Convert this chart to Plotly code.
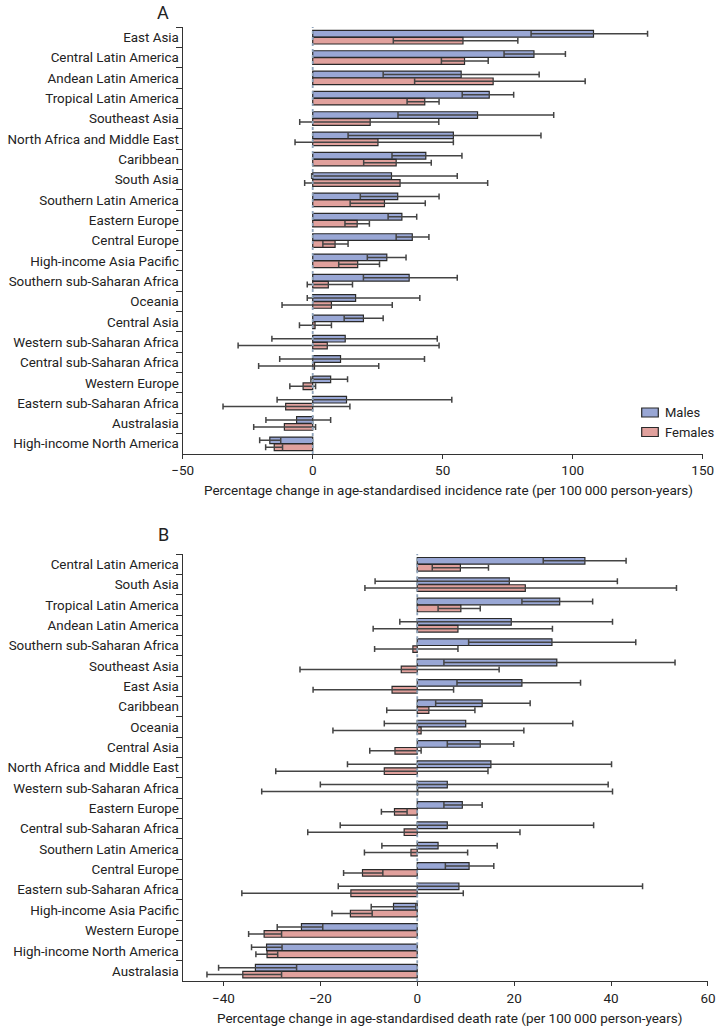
import plotly.graph_objects as go

# Panel A - incidence
regions_a = ["East Asia", "Central Latin America", "Andean Latin America", "Tropical Latin America",
             "Southeast Asia", "North Africa and Middle East", "Caribbean", "South Asia",
             "Southern Latin America", "Eastern Europe", "Central Europe", "High-income Asia Pacific",
             "Southern sub-Saharan Africa", "Oceania", "Central Asia", "Western sub-Saharan Africa",
             "Central sub-Saharan Africa", "Western Europe", "Eastern sub-Saharan Africa",
             "Australasia", "High-income North America"]
males_a = [108.0, 85.1, 57.1, 67.9, 63.4, 54.1, 43.5, 30.3, 32.7, 34.3, 38.3, 28.5, 37.1, 16.5,
           19.5, 12.5, 10.7, 6.9, 13.0, -6.2, -16.5]
males_a_lo = [84.0, 73.6, 27.1, 57.5, 32.8, 13.6, 30.5, -0.4, 18.3, 29.0, 32.1, 21.0, 19.5, -2.1,
              12.1, -15.7, -12.7, -0.7, -13.7, -18.0, -20.4]
males_a_hi = [128.8, 97.2, 87.1, 77.3, 92.7, 87.8, 57.4, 55.6, 48.6, 40.0, 44.7, 35.9, 55.6, 41.2,
              27.1, 47.9, 43.0, 13.4, 53.5, 6.9, -12.3]
females_a = [57.8, 58.4, 69.4, 43.1, 22.1, 25.1, 32.1, 33.6, 27.6, 17.1, 8.6, 17.3, 6.0, 7.2,
             0.9, 5.6, 0.7, -3.7, -10.4, -10.9, -14.8]
females_a_lo = [31.0, 49.5, 39.2, 36.3, -5.0, -6.8, 19.6, -3.1, 14.4, 12.4, 3.9, 10.0, -2.1, -11.8,
                -5.1, -28.7, -20.8, -8.8, -34.5, -22.7, -18.1]
females_a_hi = [78.9, 67.5, 104.8, 48.6, 48.5, 54.1, 45.6, 67.3, 43.3, 21.8, 13.6, 25.7, 15.3, 30.6,
                7.2, 48.6, 25.4, 1.1, 14.3, 1.1, -11.6]

# Panel B - mortality
regions_b = ["Central Latin America", "South Asia", "Tropical Latin America", "Andean Latin America",
             "Southern sub-Saharan Africa", "Southeast Asia", "East Asia", "Caribbean", "Oceania",
             "Central Asia", "North Africa and Middle East", "Western sub-Saharan Africa",
             "Eastern Europe", "Central sub-Saharan Africa", "Southern Latin America",
             "Central Europe", "Eastern sub-Saharan Africa", "High-income Asia Pacific",
             "Western Europe", "High-income North America", "Australasia"]
males_b = [34.6, 19.0, 29.4, 19.4, 27.8, 28.8, 21.6, 13.4, 10.0, 13.0, 15.2, 6.2, 9.3, 6.2, 4.3,
           10.7, 8.6, -4.9, -23.9, -31.1, -33.4]
males_b_lo = [26.0, -8.7, 21.6, -3.6, 10.6, 5.5, 8.2, 3.8, -6.8, 6.2, -14.4, -20.0, 5.5, -15.9,
              -7.3, 5.8, -16.3, -9.5, -28.9, -34.2, -41.0]
males_b_hi = [43.1, 41.3, 36.2, 40.3, 45.1, 53.2, 33.7, 23.3, 32.1, 19.9, 40.1, 39.4, 13.4, 36.4,
              16.5, 15.8, 46.5, -0.3, -19.5, -27.9, -24.9]
females_b = [8.9, 22.3, 9.0, 8.4, -0.9, -3.3, -5.2, 2.4, 0.8, -4.6, -6.8, 0.1, -4.7, -2.7, -1.3,
             -11.3, -13.7, -13.8, -31.6, -31.0, -36.0]
females_b_lo = [3.1, -10.8, 4.3, -9.1, -8.8, -24.2, -21.5, -6.3, -17.4, -9.8, -29.2, -32.1, -7.4,
                -22.6, -10.9, -15.2, -36.2, -17.6, -34.8, -33.3, -43.4]
females_b_hi = [14.7, 53.5, 13.0, 27.9, 8.4, 16.9, 7.5, 11.9, 22.0, 0.8, 14.6, 40.3, -2.1, 21.2,
                10.4, -7.1, 9.5, -9.3, -28.0, -28.8, -28.0]

FONT = "Roboto, sans-serif"
MALE_COL = "#99A7D5"
FEMALE_COL = "#E1A19D"
W, H = 716, 1028


def bar_trace(name, regions, vals, lo, hi, color, xa, ya):
    return go.Bar(
        name=name, y=regions, x=vals, orientation="h",
        marker=dict(color=color, line=dict(color="#2a2a2a", width=1.2)),
        error_x=dict(type="data", symmetric=False,
                     array=[h - v for h, v in zip(hi, vals)],
                     arrayminus=[v - l for v, l in zip(vals, lo)],
                     color="#444444", thickness=1.5, width=3),
        xaxis=xa, yaxis=ya, showlegend=False,
    )


fig = go.Figure()
fig.add_trace(bar_trace("Males", regions_a, males_a, males_a_lo, males_a_hi, MALE_COL, "x", "y"))
fig.add_trace(bar_trace("Females", regions_a, females_a, females_a_lo, females_a_hi, FEMALE_COL, "x", "y"))
fig.add_trace(bar_trace("Males", regions_b, males_b, males_b_lo, males_b_hi, MALE_COL, "x2", "y2"))
fig.add_trace(bar_trace("Females", regions_b, females_b, females_b_lo, females_b_hi, FEMALE_COL, "x2", "y2"))

axis_common = dict(showgrid=False, zeroline=False, showline=True, linecolor="#333333", linewidth=1.3,
                   ticks="outside", tickcolor="#333333", automargin=False)
xtick_font = dict(size=13.5, color="#222222")
ytick_font = dict(size=13.4, color="#222222")

fig.update_layout(
    width=W, height=H,
    margin=dict(l=0, r=0, t=0, b=0),
    paper_bgcolor="white", plot_bgcolor="white",
    font=dict(family=FONT, size=14, color="#222222"),
    barmode="group", bargap=0.32, bargroupgap=0.04,
    showlegend=False,
    xaxis=dict(domain=[0.2552, 0.9814], range=[-50, 150], tickvals=[-50, 0, 50, 100, 150],
               ticktext=["\u221250", "0", "50", "100", "150"], ticklen=4, anchor="y",
               tickfont=xtick_font, **axis_common),
    yaxis=dict(domain=[0.5584, 0.9737], range=[20.5, -0.5], tickson="boundaries", ticklen=6,
               ticklabelstandoff=0, anchor="x", tickfont=ytick_font, **axis_common),
    xaxis2=dict(domain=[0.2552, 0.9888], range=[-48.4, 60], tickvals=[-40, -20, 0, 20, 40, 60],
                ticktext=["\u221240", "\u221220", "0", "20", "40", "60"], ticklen=4, anchor="y2",
                tickfont=xtick_font, **axis_common),
    yaxis2=dict(domain=[0.0454, 0.4610], range=[20.5, -0.5], tickson="boundaries", ticklen=6,
                ticklabelstandoff=0, anchor="x2", tickfont=ytick_font, **axis_common),
)

# dotted zero lines
for xa, ya in [("x", "y"), ("x2", "y2")]:
    fig.add_shape(type="line", x0=0, x1=0, y0=0, y1=1, xref=xa, yref=ya + " domain",
                  line=dict(color="#8FA3BA", width=1.8, dash="dot"), layer="above")

# legend drawn by hand inside panel A (bottom right)
for label, col, top in [("Males", MALE_COL, 408), ("Females", FEMALE_COL, 427.5)]:
    fig.add_shape(type="rect", xref="paper", yref="paper",
                  x0=641.7 / W, x1=658.3 / W, y0=1 - (top + 9) / H, y1=1 - top / H,
                  fillcolor=col, line=dict(color="#2a2a2a", width=1.2))
    fig.add_annotation(x=663 / W, y=1 - (top + 4.5) / H, xref="paper", yref="paper", text=label,
                       showarrow=False, xanchor="left", yanchor="middle", font=dict(size=13))

# panel letters and axis titles
fig.add_annotation(x=171 / W, y=1, xref="paper", yref="paper", text="A",
                   showarrow=False, xanchor="right", yanchor="top", font=dict(size=18))
fig.add_annotation(x=171 / W, y=1 - 522 / H, xref="paper", yref="paper", text="B",
                   showarrow=False, xanchor="right", yanchor="top", font=dict(size=18))
fig.add_annotation(x=448.6 / W, y=1 - 490 / H, xref="paper", yref="paper",
                   text="Percentage change in age-standardised incidence rate (per 100\u2009000 person-years)",
                   showarrow=False, xanchor="center", yanchor="middle", font=dict(size=13.5))
fig.add_annotation(x=449.6 / W, y=0, xref="paper", yref="paper",
                   text="Percentage change in age-standardised death rate (per 100\u2009000 person-years)",
                   showarrow=False, xanchor="center", yanchor="bottom", font=dict(size=13.5))

# page has a default 8px body margin; drop it so the figure sits at the window origin
fig.write_html("out.html", config={"displayModeBar": False},
               post_script="document.body.style.margin='0';"
                           "document.body.style.overflow='hidden';")
